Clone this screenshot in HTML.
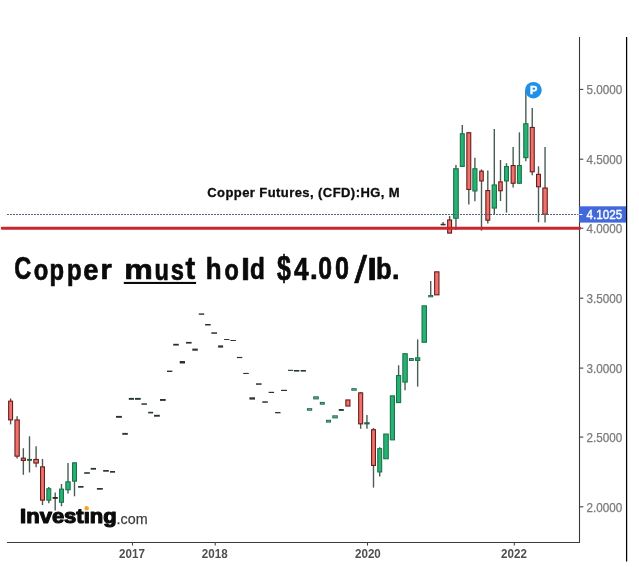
<!DOCTYPE html>
<html><head><meta charset="utf-8"><title>Copper Futures</title>
<style>
html,body{margin:0;padding:0;background:#fff;}
body{width:639px;height:567px;overflow:hidden;font-family:"Liberation Sans",sans-serif;}
svg{display:block;will-change:transform;}
text{font-family:"Liberation Sans",sans-serif;}
.yl{font-size:12.4px;fill:#7a7a7a;stroke:#7a7a7a;stroke-width:0.25px;}
.xl{font-size:12.7px;font-weight:bold;fill:#4f4f4f;}
.tg{font-size:30.9px;font-weight:bold;fill:#0a0a0a;stroke:#0a0a0a;stroke-width:0.7px;stroke-linejoin:round;}
.sub{font-size:13px;font-weight:bold;fill:#0d0d0d;stroke:#0d0d0d;stroke-width:0.3px;}
</style></head><body>
<svg width="639" height="567" viewBox="0 0 639 567">
<rect width="639" height="567" fill="#ffffff"/>
<!-- axes -->
<line x1="579.5" y1="37" x2="579.5" y2="542.5" stroke="#3a3a3a" stroke-width="1.1"/>
<line x1="7" y1="542.5" x2="580" y2="542.5" stroke="#3a3a3a" stroke-width="1.1"/>
<line x1="626.6" y1="37" x2="626.6" y2="561.5" stroke="#000" stroke-width="1.25"/>
<line x1="579.5" y1="89.4" x2="583.3" y2="89.4" stroke="#444" stroke-width="1.1"/>
<text x="586.6" y="94.3" class="yl" textLength="35.7" lengthAdjust="spacingAndGlyphs">5.0000</text>
<line x1="579.5" y1="159.2" x2="583.3" y2="159.2" stroke="#444" stroke-width="1.1"/>
<text x="586.6" y="164.1" class="yl" textLength="35.7" lengthAdjust="spacingAndGlyphs">4.5000</text>
<line x1="579.5" y1="228.2" x2="583.3" y2="228.2" stroke="#444" stroke-width="1.1"/>
<text x="586.6" y="233.1" class="yl" textLength="35.7" lengthAdjust="spacingAndGlyphs">4.0000</text>
<line x1="579.5" y1="298.2" x2="583.3" y2="298.2" stroke="#444" stroke-width="1.1"/>
<text x="586.6" y="303.1" class="yl" textLength="35.7" lengthAdjust="spacingAndGlyphs">3.5000</text>
<line x1="579.5" y1="368.1" x2="583.3" y2="368.1" stroke="#444" stroke-width="1.1"/>
<text x="586.6" y="373" class="yl" textLength="35.7" lengthAdjust="spacingAndGlyphs">3.0000</text>
<line x1="579.5" y1="437.1" x2="583.3" y2="437.1" stroke="#444" stroke-width="1.1"/>
<text x="586.6" y="442" class="yl" textLength="35.7" lengthAdjust="spacingAndGlyphs">2.5000</text>
<line x1="579.5" y1="506.8" x2="583.3" y2="506.8" stroke="#444" stroke-width="1.1"/>
<text x="586.6" y="511.7" class="yl" textLength="35.7" lengthAdjust="spacingAndGlyphs">2.0000</text>
<line x1="132.5" y1="542" x2="132.5" y2="545.6" stroke="#444" stroke-width="1.1"/>
<text x="119.1" y="557.6" class="xl" textLength="25.8" lengthAdjust="spacingAndGlyphs">2017</text>
<line x1="215.2" y1="542" x2="215.2" y2="545.6" stroke="#444" stroke-width="1.1"/>
<text x="201.79999999999998" y="557.6" class="xl" textLength="25.8" lengthAdjust="spacingAndGlyphs">2018</text>
<line x1="367.5" y1="542" x2="367.5" y2="545.6" stroke="#444" stroke-width="1.1"/>
<text x="355.0" y="557.6" class="xl" textLength="25.8" lengthAdjust="spacingAndGlyphs">2020</text>
<line x1="514.3" y1="542" x2="514.3" y2="545.6" stroke="#444" stroke-width="1.1"/>
<text x="501.1" y="557.6" class="xl" textLength="25.8" lengthAdjust="spacingAndGlyphs">2022</text>
<!-- candles -->
<line x1="443.1" y1="222" x2="443.1" y2="225.3" stroke="#4a5d54" stroke-width="1.4"/>
<line x1="449.6" y1="216" x2="449.6" y2="233.6" stroke="#4a5d54" stroke-width="1.4"/>
<line x1="455.95" y1="165" x2="455.95" y2="230" stroke="#4a5d54" stroke-width="1.4"/>
<line x1="462.3" y1="125" x2="462.3" y2="167" stroke="#4a5d54" stroke-width="1.4"/>
<line x1="468.8" y1="132.2" x2="468.8" y2="204.4" stroke="#4a5d54" stroke-width="1.4"/>
<line x1="474.9" y1="157.8" x2="474.9" y2="201.3" stroke="#4a5d54" stroke-width="1.4"/>
<line x1="481.5" y1="169.4" x2="481.5" y2="230.7" stroke="#4a5d54" stroke-width="1.4"/>
<line x1="487.8" y1="170.6" x2="487.8" y2="223.6" stroke="#4a5d54" stroke-width="1.4"/>
<line x1="494.3" y1="129" x2="494.3" y2="214" stroke="#4a5d54" stroke-width="1.4"/>
<line x1="500.5" y1="160" x2="500.5" y2="201" stroke="#4a5d54" stroke-width="1.4"/>
<line x1="506.5" y1="163.2" x2="506.5" y2="212.6" stroke="#4a5d54" stroke-width="1.4"/>
<line x1="513.15" y1="147" x2="513.15" y2="187.5" stroke="#4a5d54" stroke-width="1.4"/>
<line x1="519.4" y1="132.3" x2="519.4" y2="183.8" stroke="#4a5d54" stroke-width="1.4"/>
<line x1="525.85" y1="90" x2="525.85" y2="161.3" stroke="#4a5d54" stroke-width="1.4"/>
<line x1="532.25" y1="108.1" x2="532.25" y2="175.3" stroke="#4a5d54" stroke-width="1.4"/>
<line x1="538.5" y1="166.3" x2="538.5" y2="222.3" stroke="#4a5d54" stroke-width="1.4"/>
<line x1="545.05" y1="147" x2="545.05" y2="222.6" stroke="#4a5d54" stroke-width="1.4"/>
<line x1="430.7" y1="281" x2="430.7" y2="297" stroke="#4a5d54" stroke-width="1.4"/>
<line x1="417.65" y1="339.4" x2="417.65" y2="386.6" stroke="#4a5d54" stroke-width="1.4"/>
<line x1="405.05" y1="353.2" x2="405.05" y2="390.3" stroke="#4a5d54" stroke-width="1.4"/>
<line x1="398.6" y1="365.3" x2="398.6" y2="403.1" stroke="#4a5d54" stroke-width="1.4"/>
<line x1="379.7" y1="447.3" x2="379.7" y2="476.5" stroke="#4a5d54" stroke-width="1.4"/>
<line x1="373.5" y1="428" x2="373.5" y2="487.6" stroke="#4a5d54" stroke-width="1.4"/>
<line x1="366.95" y1="415" x2="366.95" y2="428.8" stroke="#4a5d54" stroke-width="1.4"/>
<line x1="360.65" y1="392.3" x2="360.65" y2="428.8" stroke="#4a5d54" stroke-width="1.4"/>
<line x1="74.5" y1="462.3" x2="74.5" y2="496.3" stroke="#4a5d54" stroke-width="1.4"/>
<line x1="68" y1="463.1" x2="68" y2="493.6" stroke="#4a5d54" stroke-width="1.4"/>
<line x1="61.5" y1="484" x2="61.5" y2="506.3" stroke="#4a5d54" stroke-width="1.4"/>
<line x1="55.2" y1="492.6" x2="55.2" y2="510.5" stroke="#4a5d54" stroke-width="1.4"/>
<line x1="48.8" y1="487" x2="48.8" y2="503.2" stroke="#4a5d54" stroke-width="1.4"/>
<line x1="42.5" y1="459" x2="42.5" y2="505" stroke="#4a5d54" stroke-width="1.4"/>
<line x1="36.1" y1="446.2" x2="36.1" y2="467.3" stroke="#4a5d54" stroke-width="1.4"/>
<line x1="29.5" y1="436.3" x2="29.5" y2="472.5" stroke="#4a5d54" stroke-width="1.4"/>
<line x1="23.35" y1="448.2" x2="23.35" y2="474.8" stroke="#4a5d54" stroke-width="1.4"/>
<line x1="17.1" y1="416.3" x2="17.1" y2="458.4" stroke="#4a5d54" stroke-width="1.4"/>
<line x1="10.6" y1="398.5" x2="10.6" y2="424.4" stroke="#4a5d54" stroke-width="1.4"/>
<rect x="440.6" y="223.8" width="5" height="1.5" fill="#27362f"/>
<rect x="447.65" y="219.95" width="3.9" height="13.1" fill="#f0736b" stroke="#6a1b1b" stroke-width="1.1"/>
<rect x="453.65" y="168.75" width="4.6" height="49.5" fill="#26b373" stroke="#19744b" stroke-width="1.1"/>
<rect x="460.35" y="133.75" width="3.9" height="32.7" fill="#26b373" stroke="#19744b" stroke-width="1.1"/>
<rect x="466.85" y="132.75" width="3.9" height="56.7" fill="#f0736b" stroke="#6a1b1b" stroke-width="1.1"/>
<rect x="472.85" y="168.75" width="4.1" height="22.2" fill="#26b373" stroke="#19744b" stroke-width="1.1"/>
<rect x="479.75" y="171.15" width="3.5" height="9.8" fill="#f0736b" stroke="#6a1b1b" stroke-width="1.1"/>
<rect x="485.85" y="190.55" width="3.9" height="29.6" fill="#f0736b" stroke="#6a1b1b" stroke-width="1.1"/>
<rect x="492.15" y="184.95" width="4.3" height="23.1" fill="#26b373" stroke="#19744b" stroke-width="1.1"/>
<rect x="498.75" y="181.85" width="3.5" height="8.9" fill="#f0736b" stroke="#6a1b1b" stroke-width="1.1"/>
<rect x="504.55" y="166.55" width="3.9" height="14.4" fill="#26b373" stroke="#19744b" stroke-width="1.1"/>
<rect x="511.15" y="165.55" width="4" height="17.7" fill="#f0736b" stroke="#6a1b1b" stroke-width="1.1"/>
<rect x="517.45" y="165.55" width="3.9" height="17.7" fill="#26b373" stroke="#19744b" stroke-width="1.1"/>
<rect x="523.75" y="123.75" width="4.2" height="33.9" fill="#26b373" stroke="#19744b" stroke-width="1.1"/>
<rect x="530.25" y="127.45" width="4" height="44.3" fill="#f0736b" stroke="#6a1b1b" stroke-width="1.1"/>
<rect x="536.55" y="174.35" width="3.9" height="12.4" fill="#f0736b" stroke="#6a1b1b" stroke-width="1.1"/>
<rect x="542.85" y="188.05" width="4.4" height="26.2" fill="#f0736b" stroke="#6a1b1b" stroke-width="1.1"/>
<rect x="434.65" y="271.85" width="4.3" height="23" fill="#f0736b" stroke="#6a1b1b" stroke-width="1.1"/>
<rect x="428.2" y="295" width="5" height="2.3" fill="#1e6a4b"/>
<rect x="429.2" y="295.8" width="3" height="0.7" fill="#62b090" opacity="0.85"/>
<rect x="422.05" y="305.85" width="4.4" height="36.4" fill="#26b373" stroke="#19744b" stroke-width="1.1"/>
<rect x="415.55" y="357.85" width="4.2" height="2.6" fill="#26b373" stroke="#19744b" stroke-width="1.1"/>
<rect x="409" y="358" width="4.8" height="3" fill="#1e6a4b"/>
<rect x="410" y="358.8" width="2.8" height="1.4" fill="#62b090" opacity="0.85"/>
<rect x="402.85" y="353.75" width="4.4" height="28.3" fill="#26b373" stroke="#19744b" stroke-width="1.1"/>
<rect x="396.55" y="375.55" width="4.1" height="27" fill="#26b373" stroke="#19744b" stroke-width="1.1"/>
<rect x="390.35" y="395.85" width="4.1" height="44" fill="#26b373" stroke="#19744b" stroke-width="1.1"/>
<rect x="383.75" y="434.05" width="4.5" height="24.7" fill="#26b373" stroke="#19744b" stroke-width="1.1"/>
<rect x="377.75" y="448.65" width="3.9" height="23.3" fill="#26b373" stroke="#19744b" stroke-width="1.1"/>
<rect x="371.55" y="429.75" width="3.9" height="35.7" fill="#f0736b" stroke="#6a1b1b" stroke-width="1.1"/>
<rect x="364.2" y="422.2" width="5.5" height="2.2" fill="#1e6a4b"/>
<rect x="358.65" y="392.85" width="4" height="31" fill="#f0736b" stroke="#6a1b1b" stroke-width="1.1"/>
<rect x="351.3" y="388.2" width="5.4" height="2.5" fill="#1e6a4b"/>
<rect x="352.3" y="389" width="3.4" height="0.9" fill="#62b090" opacity="0.85"/>
<rect x="345.85" y="399.95" width="4.1" height="6.1" fill="#f0736b" stroke="#6a1b1b" stroke-width="1.1"/>
<rect x="338.8" y="409" width="5" height="1.9" fill="#27362f"/>
<rect x="332.3" y="415.3" width="5.5" height="3.1" fill="#1e6a4b"/>
<rect x="333.3" y="416.1" width="3.5" height="1.5" fill="#62b090" opacity="0.85"/>
<rect x="326" y="419.8" width="5" height="2.8" fill="#1e6a4b"/>
<rect x="327" y="420.6" width="3" height="1.2" fill="#62b090" opacity="0.85"/>
<rect x="319.8" y="401.9" width="5" height="2.8" fill="#1e6a4b"/>
<rect x="320.8" y="402.7" width="3" height="1.2" fill="#62b090" opacity="0.85"/>
<rect x="313.2" y="396.3" width="5.6" height="3.1" fill="#1e6a4b"/>
<rect x="314.2" y="397.1" width="3.6" height="1.5" fill="#62b090" opacity="0.85"/>
<rect x="306.9" y="408.2" width="5.3" height="2.5" fill="#1e6a4b"/>
<rect x="307.9" y="409" width="3.3" height="0.9" fill="#62b090" opacity="0.85"/>
<rect x="72.55" y="462.85" width="3.9" height="18.3" fill="#26b373" stroke="#19744b" stroke-width="1.1"/>
<rect x="65.85" y="481.85" width="4.3" height="7.9" fill="#26b373" stroke="#19744b" stroke-width="1.1"/>
<rect x="59.55" y="489.15" width="3.9" height="13.1" fill="#26b373" stroke="#19744b" stroke-width="1.1"/>
<rect x="52.6" y="497" width="5.2" height="1.8" fill="#3a1a1a"/>
<rect x="46.85" y="488.75" width="3.9" height="11.4" fill="#26b373" stroke="#19744b" stroke-width="1.1"/>
<rect x="40.55" y="466.85" width="3.9" height="33.3" fill="#f0736b" stroke="#6a1b1b" stroke-width="1.1"/>
<rect x="33.85" y="459.45" width="4.5" height="3.6" fill="#f0736b" stroke="#6a1b1b" stroke-width="1.1"/>
<rect x="27" y="458.9" width="5" height="1.9" fill="#1d5c42"/>
<rect x="21.35" y="458.15" width="4" height="2.3" fill="#f0736b" stroke="#6a1b1b" stroke-width="1.1"/>
<rect x="14.95" y="419.95" width="4.3" height="36.2" fill="#f0736b" stroke="#6a1b1b" stroke-width="1.1"/>
<rect x="8.65" y="401.15" width="3.9" height="18.7" fill="#f0736b" stroke="#6a1b1b" stroke-width="1.1"/>
<rect x="300.7" y="370" width="5.2" height="1.6" fill="#27362f"/>
<rect x="294" y="370" width="5.4" height="1.6" fill="#27362f"/>
<rect x="288" y="369.8" width="5.2" height="1.1" fill="#27362f"/>
<rect x="281.1" y="389.8" width="5.9" height="1.2" fill="#27362f"/>
<rect x="275.1" y="412" width="5.4" height="1.3" fill="#27362f"/>
<rect x="268.6" y="391.8" width="5.5" height="1.2" fill="#27362f"/>
<rect x="262.3" y="401.3" width="5.5" height="1.5" fill="#27362f"/>
<rect x="256" y="383.3" width="5.6" height="1.5" fill="#27362f"/>
<rect x="249.4" y="397.3" width="5.6" height="2.3" fill="#27362f"/>
<rect x="243.2" y="372.9" width="5.6" height="1.1" fill="#27362f"/>
<rect x="236.9" y="356.9" width="5.4" height="1.2" fill="#27362f"/>
<rect x="230.4" y="340" width="5.5" height="1" fill="#27362f"/>
<rect x="224.1" y="339" width="5.3" height="1" fill="#27362f"/>
<rect x="218.1" y="345.4" width="5" height="2.2" fill="#27362f"/>
<rect x="211.3" y="332.3" width="5.7" height="1.5" fill="#27362f"/>
<rect x="205.1" y="324" width="5.6" height="1.5" fill="#27362f"/>
<rect x="198.8" y="313.4" width="5.4" height="1.4" fill="#27362f"/>
<rect x="192.3" y="348.6" width="5.5" height="2.1" fill="#27362f"/>
<rect x="186" y="341.9" width="5.6" height="1.7" fill="#27362f"/>
<rect x="179.7" y="361" width="5.3" height="2.5" fill="#27362f"/>
<rect x="173.2" y="343.8" width="5.6" height="1.8" fill="#27362f"/>
<rect x="167" y="370.6" width="5.3" height="1.4" fill="#27362f"/>
<rect x="160" y="399" width="5.7" height="1.9" fill="#27362f"/>
<rect x="154" y="414.8" width="5.8" height="1.9" fill="#27362f"/>
<rect x="148.2" y="411.8" width="5" height="1.6" fill="#27362f"/>
<rect x="141.5" y="403.3" width="5.4" height="1.5" fill="#27362f"/>
<rect x="135" y="397.9" width="5.7" height="1.9" fill="#27362f"/>
<rect x="128.8" y="397.9" width="5.2" height="1.9" fill="#27362f"/>
<rect x="122.3" y="432.9" width="5.5" height="1.9" fill="#27362f"/>
<rect x="116" y="415.9" width="5.9" height="1.9" fill="#27362f"/>
<rect x="110" y="471" width="5" height="1.7" fill="#27362f"/>
<rect x="103.2" y="470" width="5.6" height="1.7" fill="#27362f"/>
<rect x="96.9" y="488" width="5.9" height="1.7" fill="#27362f"/>
<rect x="90.7" y="467.9" width="5.3" height="1.8" fill="#27362f"/>
<rect x="84.2" y="472.2" width="5.6" height="1.6" fill="#27362f"/>
<rect x="78.1" y="486" width="5.4" height="1.7" fill="#27362f"/>
<!-- last price dotted line -->
<line x1="7" y1="214.5" x2="578.4" y2="214.5" stroke="#55627f" stroke-width="1" stroke-dasharray="2 1"/>
<!-- red support line -->
<rect x="1" y="226.8" width="579.9" height="2.9" rx="0.8" fill="#c9262f"/>
<!-- price tag -->
<rect x="579.2" y="206.3" width="46.8" height="16.3" fill="#4169dc"/>
<line x1="579.4" y1="214.5" x2="582.4" y2="214.5" stroke="#fff" stroke-width="1.1"/>
<text x="586.6" y="219.0" style="font-size:12.4px;fill:#fff;stroke:#fff;stroke-width:0.4px" textLength="35.7" lengthAdjust="spacingAndGlyphs">4.1025</text>
<!-- P marker -->
<circle cx="533.4" cy="90.2" r="8.3" fill="#1f8fe8"/>
<text x="533.6" y="94.1" text-anchor="middle" style="font-size:11px;font-weight:bold;fill:#fff;stroke:#fff;stroke-width:0.4px">P</text>
<!-- labels -->
<text x="207.2" y="196.9" class="sub" textLength="192.5" lengthAdjust="spacing">Copper Futures, (CFD):HG, M</text>
<text class="tg" x="14" y="279.5"><tspan x="14.33" y="279.48" textLength="17.00" lengthAdjust="spacingAndGlyphs" style="font-size:30.73px">C</tspan><tspan x="33.73" y="279.52" textLength="14.55" lengthAdjust="spacingAndGlyphs" style="font-size:28.58px">o</tspan><tspan x="49.55" y="279.91" textLength="14.53" lengthAdjust="spacingAndGlyphs" style="font-size:29.27px">p</tspan><tspan x="66.94" y="279.91" textLength="14.64" lengthAdjust="spacingAndGlyphs" style="font-size:29.27px">p</tspan><tspan x="83.23" y="279.52" textLength="15.18" lengthAdjust="spacingAndGlyphs" style="font-size:28.58px">e</tspan><tspan x="100.48" y="279.45" textLength="11.26" lengthAdjust="spacingAndGlyphs" style="font-size:28.45px">r</tspan> <tspan x="124.31" y="279.45" textLength="28.55" lengthAdjust="spacingAndGlyphs" style="font-size:28.45px">m</tspan><tspan x="154.46" y="279.52" textLength="14.38" lengthAdjust="spacingAndGlyphs" style="font-size:28.63px">u</tspan><tspan x="170.72" y="279.52" textLength="13.20" lengthAdjust="spacingAndGlyphs" style="font-size:28.58px">s</tspan><tspan x="185.40" y="279.38" textLength="9.64" lengthAdjust="spacingAndGlyphs" style="font-size:30.72px">t</tspan> <tspan x="205.83" y="279.44" textLength="15.83" lengthAdjust="spacingAndGlyphs" style="font-size:30.06px">h</tspan><tspan x="224.44" y="279.52" textLength="14.33" lengthAdjust="spacingAndGlyphs" style="font-size:28.58px">o</tspan><tspan x="240.95" y="279.53" textLength="9.10" lengthAdjust="spacingAndGlyphs" style="font-size:30.20px">l</tspan><tspan x="249.91" y="279.49" textLength="14.87" lengthAdjust="spacingAndGlyphs" style="font-size:30.14px">d</tspan> <tspan x="276.90" y="279.86" textLength="13.85" lengthAdjust="spacingAndGlyphs" style="font-size:34.63px">$</tspan><tspan x="293.99" y="279.55" textLength="14.65" lengthAdjust="spacingAndGlyphs" style="font-size:31.08px">4</tspan><tspan x="310.12" y="279.46" textLength="7.73" lengthAdjust="spacingAndGlyphs" style="font-size:28.25px">.</tspan><tspan x="318.30" y="279.48" textLength="13.75" lengthAdjust="spacingAndGlyphs" style="font-size:30.73px">0</tspan><tspan x="334.99" y="279.48" textLength="13.97" lengthAdjust="spacingAndGlyphs" style="font-size:30.73px">0</tspan><tspan x="354.44" y="282.83" textLength="12.46" lengthAdjust="spacingAndGlyphs" style="font-size:37.94px;font-weight:normal">/</tspan><tspan x="367.31" y="279.53" textLength="9.79" lengthAdjust="spacingAndGlyphs" style="font-size:30.20px">l</tspan><tspan x="376.05" y="279.49" textLength="15.68" lengthAdjust="spacingAndGlyphs" style="font-size:30.14px">b</tspan><tspan x="392.06" y="279.46" textLength="7.56" lengthAdjust="spacingAndGlyphs" style="font-size:28.25px">.</tspan></text>
<rect x="123.8" y="281.9" width="72.3" height="2.1" fill="#0a0a0a"/>
<!-- logo -->
<text x="20.1" y="523.3" style="font-size:20.4px;font-weight:bold;fill:#0b0b0b;stroke:#0b0b0b;stroke-width:1.15px;stroke-linejoin:round" textLength="96.6" lengthAdjust="spacingAndGlyphs">Investing</text>
<rect x="84.2" y="505.8" width="5.3" height="5.6" fill="#fff"/>
<circle cx="86.7" cy="508.3" r="2.2" fill="#f5a42a"/>
<text x="116.6" y="523.8" style="font-size:15.5px;fill:#3c3c3c;stroke:#3c3c3c;stroke-width:0.25px" textLength="31" lengthAdjust="spacingAndGlyphs">.com</text>
</svg>
</body></html>
